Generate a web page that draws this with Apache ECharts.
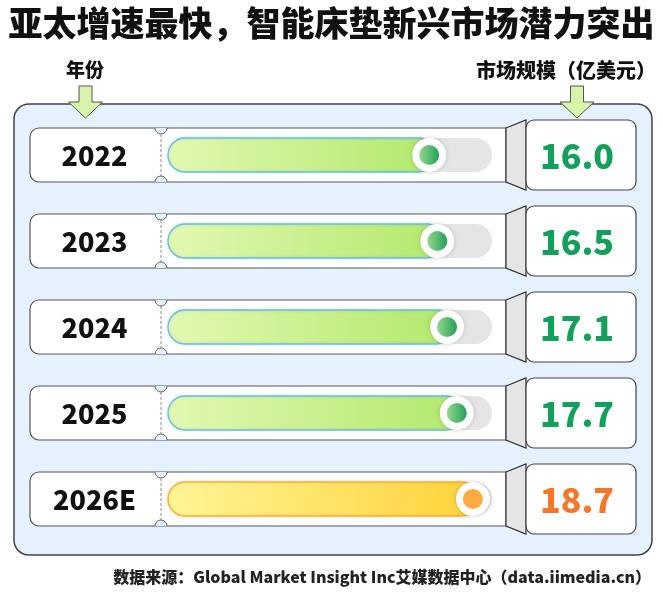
<!DOCTYPE html>
<html>
<head>
<meta charset="utf-8">
<script src="https://cdn.jsdelivr.net/npm/echarts@6/dist/echarts.min.js"></script>
<style>
html,body{margin:0;padding:0;background:#fff;}
#main{width:663px;height:596px;}
</style>
</head>
<body>
<div id="main"></div>
<script>
// ---- data ----
const years = ['2022', '2023', '2024', '2025', '2026E'];
const values = [16.0, 16.5, 17.1, 17.7, 18.7];
const valueLabels = ['16.0', '16.5', '17.1', '17.7', '18.7'];
const estimated = [false, false, false, false, true];
const axisMax = 20;

const titleText = '亚太增速最快，智能床垫新兴市场潜力突出';
const leftHeader = '年份';
const rightHeader = '市场规模（亿美元）';
const sourceText = '数据来源：Global Market Insight Inc艾媒数据中心（data.iimedia.cn）';

// ---- style ----
const FONT = '"Noto Sans CJK SC", "Noto Sans", sans-serif';
const PANEL_BG = '#e5f1fc';
const BORDER = '#555';

const chart = echarts.init(document.getElementById('main'), null, {renderer: 'canvas'});

function arrow(cx) {
  return {
    type: 'polygon', z: 20,
    shape: {points: [[cx - 6.5, 86], [cx + 6.5, 86], [cx + 6.5, 102], [cx + 17, 102], [cx, 118], [cx - 17, 102], [cx - 6.5, 102]]},
    style: {fill: '#d8f3aa', stroke: '#555', lineWidth: 1}
  };
}

function renderItem(params, api) {
  const idx = api.value(1);
  const v = api.value(0);
  const p0 = api.coord([0, idx]);
  const pv = api.coord([v, idx]);
  const pm = api.coord([axisMax, idx]);
  const x0 = p0[0], cy = p0[1], xv = pv[0], xm = pm[0];
  const est = estimated[idx];

  const cardL = x0 - 140, notchX = x0 - 9, contR = xm + 12, trapR = xm + 32, boxR = xm + 142;
  const ch = 54, bh = 70, th = 34;
  const top = cy - ch / 2, bot = cy + ch / 2;
  const trackL = x0 - 2, trackR = xm - 2;

  const fillGrad = est
    ? new echarts.graphic.LinearGradient(0, 0, 1, 0, [{offset: 0, color: '#fff595'}, {offset: 1, color: '#ffd23a'}])
    : new echarts.graphic.LinearGradient(0, 0, 1, 0, [{offset: 0, color: '#e2f8b2'}, {offset: 1, color: '#b2e86c'}]);
  const fillStroke = est ? '#ffb02e' : '#62bff0';
  const knobFill = est ? '#ffab42'
    : new echarts.graphic.LinearGradient(0, 0, 1, 0, [{offset: 0, color: '#95d68e'}, {offset: 1, color: '#22a05a'}]);
  const valColor = est ? '#f5782a' : '#13a05b';

  const children = [
    {type: 'rect', shape: {x: cardL, y: top, width: contR - cardL, height: ch, r: [9, 0, 0, 9]},
      style: {fill: '#fff', stroke: BORDER, lineWidth: 1.2}},
    {type: 'sector', shape: {cx: notchX, cy: top, r0: 0, r: 6, startAngle: 0, endAngle: Math.PI, clockwise: true},
      style: {fill: PANEL_BG}},
    {type: 'arc', shape: {cx: notchX, cy: top, r: 6, startAngle: 0, endAngle: Math.PI, clockwise: true},
      style: {fill: null, stroke: '#666', lineWidth: 1}},
    {type: 'sector', shape: {cx: notchX, cy: bot, r0: 0, r: 6, startAngle: Math.PI, endAngle: Math.PI * 2, clockwise: true},
      style: {fill: PANEL_BG}},
    {type: 'arc', shape: {cx: notchX, cy: bot, r: 6, startAngle: Math.PI, endAngle: Math.PI * 2, clockwise: true},
      style: {fill: null, stroke: '#666', lineWidth: 1}},
    {type: 'line', shape: {x1: notchX, y1: top + 6, x2: notchX, y2: bot - 6},
      style: {stroke: '#888', lineWidth: 1, lineDash: [3, 2]}},
    {type: 'rect', shape: {x: trackL, y: cy - th / 2, width: trackR - trackL, height: th, r: th / 2},
      style: {fill: '#e5e5e5'}},
    {type: 'rect', shape: {x: trackL, y: cy - th / 2, width: xv - trackL + 6, height: th, r: th / 2},
      style: {fill: fillGrad, stroke: fillStroke, lineWidth: 1.3, shadowBlur: 3, shadowColor: 'rgba(0,0,0,0.12)'}},
    {type: 'circle', shape: {cx: xv, cy: cy, r: 17},
      style: {fill: '#fff', shadowBlur: 4, shadowColor: 'rgba(0,0,0,0.18)'}},
    {type: 'circle', shape: {cx: xv, cy: cy, r: 10}, style: {fill: knobFill}},
    {type: 'polygon', shape: {points: [[contR, top], [trapR, cy - bh / 2], [trapR, cy + bh / 2], [contR, bot]]},
      style: {fill: '#e5e5e5', stroke: '#333', lineWidth: 1.2}},
    {type: 'rect', shape: {x: trapR, y: cy - bh / 2, width: boxR - trapR, height: bh, r: 8},
      style: {fill: '#fff', stroke: '#444', lineWidth: 1.2}},
    {type: 'text', style: {x: (cardL + notchX) / 2 - 1, y: cy + 1, text: years[idx], align: 'center', verticalAlign: 'middle',
      font: '900 27px ' + FONT, fill: '#111'}},
    {type: 'text', style: {x: (trapR + boxR) / 2 - 4, y: cy + 1, text: valueLabels[idx], align: 'center', verticalAlign: 'middle',
      font: '900 34px ' + FONT, fill: valColor}}
  ];
  return {type: 'group', children: children};
}

const option = {
  backgroundColor: '#fff',
  animation: false,
  title: {
    text: titleText, left: 'center', top: 1,
    textStyle: {fontSize: 34, fontWeight: 900, color: '#111', fontFamily: FONT}
  },
  grid: {left: 170, right: 169, top: 112, bottom: 54},
  xAxis: {type: 'value', min: 0, max: axisMax, show: false},
  yAxis: {type: 'category', data: years, inverse: true, show: false},
  series: [{
    type: 'custom', z: 5,
    renderItem: renderItem,
    encode: {x: 0, y: 1},
    data: values.map((v, i) => [v, i])
  }],
  graphic: [
    {type: 'rect', z: 0, shape: {x: 14, y: 104, width: 638, height: 451, r: 15},
      style: {fill: PANEL_BG, stroke: '#444', lineWidth: 1.5}},
    arrow(85.5), arrow(577),
    {type: 'text', z: 20, style: {x: 85, y: 70, text: leftHeader, align: 'center', verticalAlign: 'middle',
      font: '900 19px ' + FONT, fill: '#111'}},
    {type: 'text', z: 20, style: {x: 656, y: 70, text: rightHeader, align: 'right', verticalAlign: 'middle',
      font: '900 20px ' + FONT, fill: '#111'}},
    {type: 'text', z: 20, style: {x: 651, y: 577, text: sourceText, align: 'right', verticalAlign: 'middle',
      font: '900 16px ' + FONT, fill: '#222'}}
  ]
};
chart.setOption(option);
</script>
</body>
</html>
